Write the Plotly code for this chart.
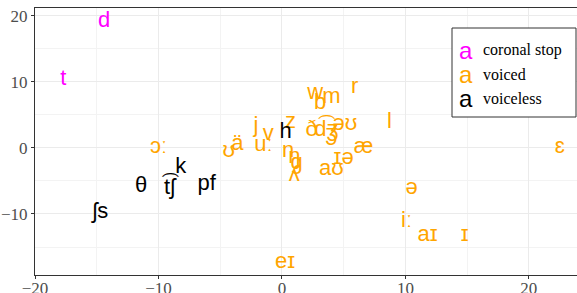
import plotly.graph_objects as go

coronal_labels = ["d", "t"]
coronal_x = [-14.4, -17.7]
coronal_y = [19.2, 10.3]

voiced_labels = ["ɔː", "ʊ", "ä", "uː", "j", "v", "z", "n", "ŋ", "g", "ʎ", "w", "m", "b", "r", "l",
                 "ð", "d͡ʒ", "ʒ", "əʊ", "æ", "aʊ", "ɪə", "ɛ", "ə", "iː", "aɪ", "ɪ", "eɪ"]
voiced_x = [-10.0, -4.3, -3.6, -1.5, -2.1, -1.1, 0.7, 0.5, 1.0, 1.2, 1.0, 2.7, 4.0, 3.1, 5.9, 8.7,
            2.4, 3.6, 4.0, 5.1, 6.6, 4.0, 5.0, 22.5, 10.5, 10.1, 11.8, 14.8, 0.25]
voiced_y = [0.0, -0.6, 0.5, 0.3, 3.3, 2.1, 3.9, -0.6, -1.4, -2.3, -4.2, 8.3, 7.7, 6.7, 9.1, 3.9,
            2.6, 2.7, 2.0, 3.6, 0.0, -3.3, -1.6, 0.0, -6.2, -11.2, -13.2, -13.2, -17.4]

voiceless_labels = ["ʃs", "θ", "t͡ʃ", "k", "pf", "h"]
voiceless_x = [-14.7, -11.4, -9.1, -8.2, -6.1, 0.3]
voiceless_y = [-9.7, -5.8, -6.1, -3.0, -5.5, 2.4]

legend_names = ["coronal stop", "voiced", "voiceless"]
colors = ["#FF00FF", "#FFA500", "#000000"]

x_ticks = [-20, -10, 0, 10, 20]
y_ticks = [-10, 0, 10, 20]

fig = go.Figure()
for lab, xs, ys, col in [(coronal_labels, coronal_x, coronal_y, colors[0]),
                         (voiced_labels, voiced_x, voiced_y, colors[1]),
                         (voiceless_labels, voiceless_x, voiceless_y, colors[2])]:
    fig.add_trace(go.Scatter(x=xs, y=ys, text=lab, mode="text", textposition="middle center",
                             textfont=dict(family="Liberation Sans, Arial", size=22, color=col),
                             showlegend=False, hoverinfo="skip", cliponaxis=False))

tickfont = dict(family="Liberation Serif, Times New Roman, serif", size=17, color="#4d4d4d")
fig.update_xaxes(range=[-20, 23.9], tickvals=x_ticks, showgrid=True, gridcolor="#ebebeb", gridwidth=1,
                 minor=dict(dtick=5, showgrid=True, gridcolor="#f3f3f3", gridwidth=1),
                 zeroline=False, showline=True, linecolor="#333333", linewidth=1, mirror=True,
                 ticks="outside", ticklen=3, tickcolor="#333333", tickfont=tickfont,
                 automargin=False, ticklabelstandoff=-5)
fig.update_yaxes(range=[-19.24, 21.2], tickvals=y_ticks, showgrid=True, gridcolor="#ebebeb", gridwidth=1,
                 minor=dict(dtick=5, showgrid=True, gridcolor="#f3f3f3", gridwidth=1),
                 zeroline=False, showline=True, linecolor="#333333", linewidth=1,
                 ticks="outside", ticklen=3, tickcolor="#333333", tickfont=tickfont,
                 automargin=False)

FW, FH = 577, 293
L, T, W, H = 35, 8, 542, 267

def px2paper(px, py):
    return (px - L) / W, (T + H - py) / H

x0, y1 = px2paper(452, 28)
x1, y0 = px2paper(576, 117)
fig.add_shape(type="rect", xref="paper", yref="paper", x0=x0, x1=x1, y0=y0, y1=y1,
              line=dict(color="#333333", width=1), fillcolor="white", layer="above")
rows = [50, 74, 98]
for name, col, ry in zip(legend_names, colors, rows):
    sx, sy = px2paper(466, ry)
    fig.add_annotation(xref="paper", yref="paper", x=sx, y=sy, text="a", showarrow=False,
                       xanchor="center", yanchor="middle",
                       font=dict(family="Liberation Sans, Arial", size=24, color=col))
    tx, ty = px2paper(481, ry)
    fig.add_annotation(xref="paper", yref="paper", x=tx, y=ty, text=name, showarrow=False,
                       xanchor="left", yanchor="middle",
                       font=dict(family="Liberation Serif, Times New Roman, serif", size=16, color="#000000"))

fig.update_layout(width=FW, height=FH, margin=dict(l=L, r=FW - L - W, t=T, b=FH - T - H),
                  plot_bgcolor="white", paper_bgcolor="white", showlegend=False)
fig.write_html("out.html", config={"displayModeBar": False},
               post_script="document.body.style.margin='0px';document.body.style.overflow='hidden';")
